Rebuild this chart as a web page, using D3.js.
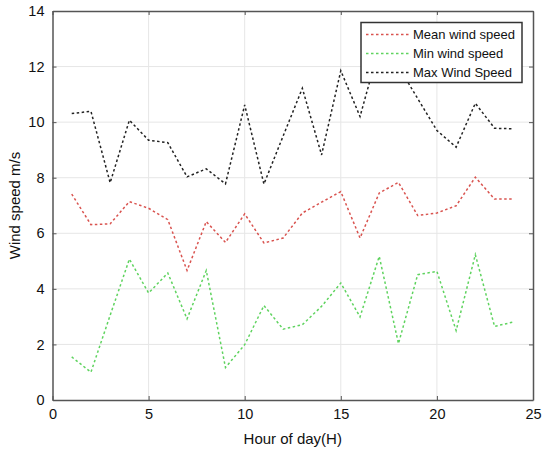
<!DOCTYPE html>
<html>
<head>
<meta charset="utf-8">
<script src="https://cdn.jsdelivr.net/npm/d3@7"></script>
<style>
  body { margin: 0; background: #fff; }
  text { font-family: "Liberation Sans", Arial, sans-serif; }
</style>
</head>
<body>
<svg id="chart" width="543" height="452"></svg>
<script>
// data
var hours = d3.range(1, 25);
var meanSpeed = [7.41, 6.31, 6.34, 7.14, 6.9, 6.49, 4.66, 6.42, 5.67, 6.7, 5.65, 5.83,
                 6.73, 7.12, 7.5, 5.83, 7.45, 7.83, 6.64, 6.73, 6.99, 8.02, 7.23, 7.23];
var minSpeed = [1.55, 1.0, 3.05, 5.07, 3.85, 4.57, 2.92, 4.66, 1.17, 1.99, 3.4, 2.55,
                2.71, 3.37, 4.21, 2.99, 5.17, 2.03, 4.51, 4.63, 2.5, 5.23, 2.65, 2.81];
var maxSpeed = [10.31, 10.39, 7.82, 10.07, 9.35, 9.26, 8.03, 8.32, 7.78, 10.62, 7.77, 9.5,
                11.22, 8.82, 11.85, 10.2, 12.7, 12.0, 10.85, 9.7, 9.1, 10.68, 9.78, 9.76];
var seriesNames = ["Mean wind speed", "Min wind speed", "Max Wind Speed"];
var seriesColors = ["#d9534f", "#5fd35f", "#222222"];
var xTicks = [0, 5, 10, 15, 20, 25];
var yTicks = [0, 2, 4, 6, 8, 10, 12, 14];

var margin = { left: 52.5, right: 10, top: 11, bottom: 52 };
var width = 543 - margin.left - margin.right,
    height = 452 - margin.top - margin.bottom;

var svg = d3.select("#chart");
var g = svg.append("g")
    .attr("transform", "translate(" + margin.left + "," + margin.top + ")");

// scales
var x = d3.scaleLinear().domain([0, 25]).range([0, width]);
var y = d3.scaleLinear().domain([0, 14]).range([height, 0]);

// grid
g.append("g").selectAll("line").data(xTicks.slice(1, -1)).enter().append("line")
    .attr("x1", function(d){ return x(d); }).attr("x2", function(d){ return x(d); })
    .attr("y1", 0).attr("y2", height)
    .attr("stroke", "#e6e6e6").attr("stroke-width", 1);
g.append("g").selectAll("line").data(yTicks.slice(1, -1)).enter().append("line")
    .attr("y1", function(d){ return y(d); }).attr("y2", function(d){ return y(d); })
    .attr("x1", 0).attr("x2", width)
    .attr("stroke", "#e6e6e6").attr("stroke-width", 1);

// axes (ticks inside, like matlab)
var xAxisCall = d3.axisBottom(x).tickValues(xTicks).tickSizeInner(-4).tickSizeOuter(0).tickPadding(9);
var xAxis = g.append("g").attr("transform", "translate(0," + height + ")").call(xAxisCall);
var yAxisCall = d3.axisLeft(y).tickValues(yTicks).tickSizeInner(-4).tickSizeOuter(0).tickPadding(8);
var yAxis = g.append("g").call(yAxisCall);
g.append("g").call(d3.axisTop(x).tickValues(xTicks).tickSizeInner(-4).tickSizeOuter(0).tickFormat(""));
g.append("g").attr("transform", "translate(" + width + ",0)")
    .call(d3.axisRight(y).tickValues(yTicks).tickSizeInner(-4).tickSizeOuter(0).tickFormat(""));

g.selectAll(".domain").attr("stroke", "#555").attr("stroke-width", 1.5);
g.selectAll(".tick line").attr("stroke", "#555");
g.selectAll(".tick text").attr("font-size", "14.5px").attr("fill", "#111")
    .style("font-family", "'Liberation Sans', Arial, sans-serif");

// axis labels
g.append("text")
    .attr("x", width / 2).attr("y", height + 44)
    .attr("text-anchor", "middle").attr("font-size", "15px").attr("fill", "#111")
    .text("Hour of day(H)");
g.append("text")
    .attr("transform", "rotate(-90)")
    .attr("x", -(height / 2)).attr("y", -33)
    .attr("text-anchor", "middle").attr("font-size", "15px").attr("fill", "#111")
    .text("Wind speed m/s");

// lines
var line = d3.line()
    .x(function(d, i){ return x(hours[i]); })
    .y(function(d){ return y(d); });
[meanSpeed, minSpeed, maxSpeed].forEach(function(s, i) {
  g.append("path")
      .datum(s)
      .attr("d", line)
      .attr("fill", "none")
      .attr("stroke", seriesColors[i])
      .attr("stroke-width", 1.5)
      .attr("stroke-dasharray", "2.5,2.5");
});

// legend
var legend = g.append("g").attr("transform", "translate(" + (361 - margin.left) + "," + (22.5 - margin.top) + ")");
legend.append("rect")
    .attr("width", 161).attr("height", 60)
    .attr("fill", "#fff").attr("stroke", "#333").attr("stroke-width", 1.5);
seriesNames.forEach(function(name, i) {
  var yy = 12 + i * 19;
  legend.append("line")
      .attr("x1", 5).attr("x2", 49).attr("y1", yy).attr("y2", yy)
      .attr("stroke", seriesColors[i]).attr("stroke-width", 1.3)
      .attr("stroke-dasharray", "2.5,2.5");
  legend.append("text")
      .attr("x", 52).attr("y", yy + 4.5)
      .attr("font-size", "13px").attr("fill", "#111")
      .text(name);
});
</script>
</body>
</html>
